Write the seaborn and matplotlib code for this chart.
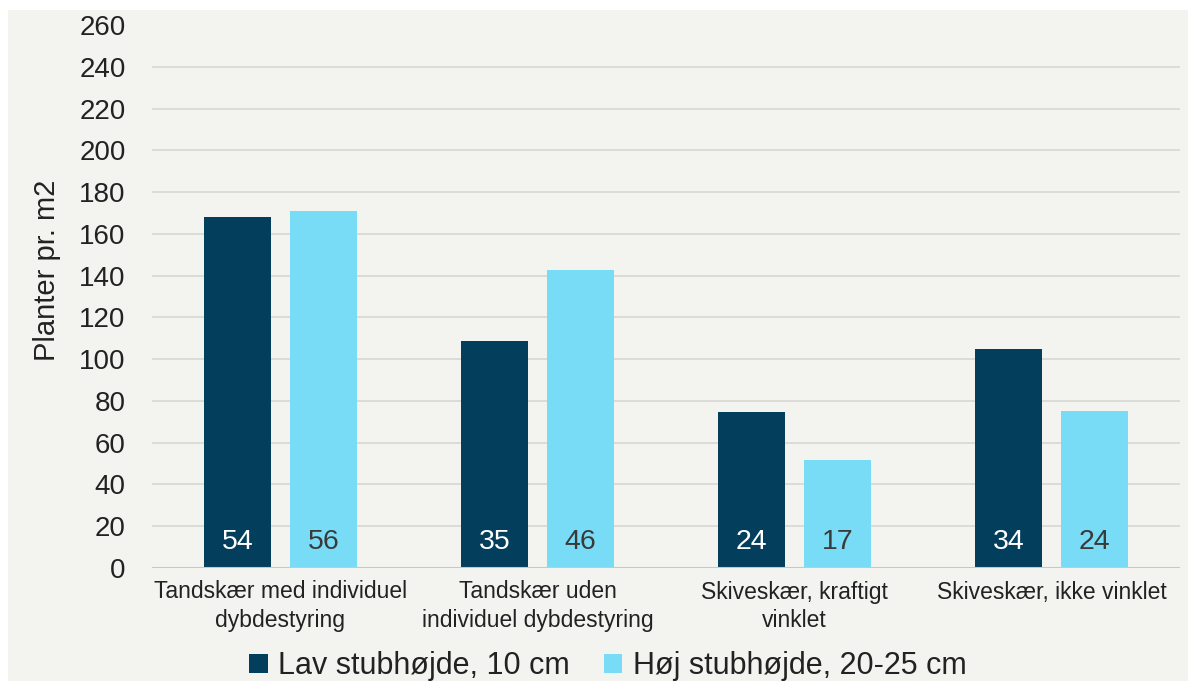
import matplotlib
matplotlib.use("Agg")
import matplotlib.pyplot as plt
from matplotlib.patches import Rectangle, Patch
import seaborn as sns
import pandas as pd

# Data
categories = [
    "Tandskær med individuel\ndybdestyring",
    "Tandskær uden\nindividuel dybdestyring",
    "Skiveskær, kraftigt\nvinklet",
    "Skiveskær, ikke vinklet",
]
series_names = ["Lav stubhøjde, 10 cm", "Høj stubhøjde, 20-25 cm"]
plants_low = [168, 108.5, 74.5, 105]
plants_high = [171, 142.5, 51.5, 75]
labels_low = ["54", "35", "24", "34"]
labels_high = ["56", "46", "17", "24"]
y_ticks = list(range(0, 261, 20))

colors = ["#033e5c", "#79dcf7"]
label_colors = ["#ffffff", "#3a3a3a"]

df = pd.DataFrame({
    "kategori": categories * 2,
    "serie": [series_names[0]] * 4 + [series_names[1]] * 4,
    "planter": plants_low + plants_high,
})

sns.set_theme(style="white")
plt.rcParams["font.family"] = ["Liberation Sans", "DejaVu Sans"]

W, H = 1188, 681
fig = plt.figure(figsize=(W / 100, H / 100), dpi=100, facecolor="white")
# light panel behind the chart
fig.patches.append(Rectangle((8 / W, 0), 1 - 8 / W, 1 - 10 / H,
                             transform=fig.transFigure, facecolor="#f3f3f0",
                             edgecolor="none", zorder=-10))

ax = fig.add_axes([152 / W, 1 - 568 / H, (1180 - 152) / W, (568 - 25) / H])
ax.set_zorder(2)
ax.set_facecolor("none")

sns.barplot(data=df, x="kategori", y="planter", hue="serie",
            order=categories, hue_order=series_names, palette=colors,
            width=0.67, gap=0.224, saturation=1, linewidth=0,
            ax=ax, zorder=3)

ax.set_ylim(0, 260)
ax.set_xlim(-0.5, len(categories) - 0.5)
ax.set_yticks(y_ticks)
ax.set_yticklabels([str(t) for t in y_ticks], fontsize=20, color="#222222")
for t in y_ticks[1:-1]:
    ax.axhline(t, color="#d9d9d6", lw=1.3, zorder=1)
ax.axhline(0, color="#c8c8c5", lw=1.5, zorder=4)

ax.tick_params(axis="y", length=0, pad=19)
ax.tick_params(axis="x", length=0, pad=9)
ax.set_xticks(range(len(categories)))
ax.set_xticklabels(categories, fontsize=16.5, color="#222222", linespacing=1.3)
ax.set_xlabel("")
ax.set_ylabel("")
for s in ax.spines.values():
    s.set_visible(False)

# values written near the bar bases
for cont, labs, col in zip(ax.containers, [labels_low, labels_high], label_colors):
    for bar, lab in zip(cont, labs):
        ax.text(bar.get_x() + bar.get_width() / 2, 12.5, lab, ha="center",
                va="center", fontsize=20.5, color=col, zorder=5)

leg = ax.get_legend()
if leg is not None:
    leg.remove()
handles = [Patch(facecolor=c, edgecolor="none") for c in colors]
fig.legend(handles, series_names, loc="center", ncol=2,
           bbox_to_anchor=(608 / W, 1 - 666 / H), frameon=False,
           fontsize=22, handlelength=0.6, handleheight=0.6,
           handletextpad=0.35, columnspacing=1.1, labelcolor="#222222")

fig.text(47 / W, 1 - 270 / H, "Planter pr. m2", rotation=90, ha="center",
         va="center", fontsize=21, color="#222222")

fig.savefig("out.png", dpi=100, facecolor="white")
